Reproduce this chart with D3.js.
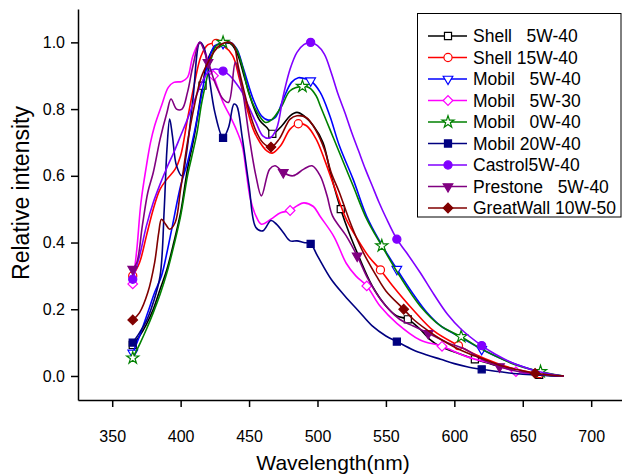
<!DOCTYPE html>
<html>
<head>
<meta charset="utf-8">
<script src="https://cdn.jsdelivr.net/npm/d3@7"></script>
<style>
  body { margin: 0; background: #fff; }
  text { font-family: "Liberation Sans", Arial, sans-serif; }
</style>
</head>
<body>
<svg width="622" height="476"></svg>
<script>
// spectra: [wavelength (nm), relative intensity]
var shell5w40 = [[365,0.093],[370,0.12],[375,0.155],[380,0.20],[385,0.26],[390,0.32],[395,0.40],[400,0.49],[405,0.62],[410,0.72],[416,0.87],[420,0.95],[425,0.985],[430,0.995],[436,0.997],[441,0.97],[447,0.89],[453,0.81],[458,0.765],[463,0.745],[467,0.726],[474,0.75],[480,0.78],[485,0.79],[490,0.78],[497,0.75],[504,0.70],[510,0.60],[517,0.50],[523,0.43],[530,0.36],[540,0.27],[550,0.21],[558,0.18],[566,0.17],[575,0.14],[582,0.11],[590,0.088],[600,0.072],[615,0.05],[630,0.032],[643,0.018],[652,0.01],[662,0.003],[670,0.001],[680,0]];
var shell15w40 = [[365,0.30],[370,0.34],[375,0.42],[380,0.50],[385,0.56],[390,0.59],[396,0.62],[400,0.66],[405,0.77],[410,0.875],[415,0.96],[420,0.993],[426,0.997],[431,0.99],[438,0.96],[443,0.89],[448,0.81],[453,0.74],[458,0.70],[463,0.675],[467,0.668],[473,0.69],[480,0.74],[486,0.756],[492,0.75],[499,0.71],[505,0.65],[512,0.57],[521,0.47],[530,0.405],[538,0.355],[546,0.318],[555,0.27],[570,0.198],[585,0.135],[603,0.091],[615,0.065],[631,0.038],[645,0.02],[662,0.007],[670,0.003],[680,0]];
var mobil5w40 = [[365,0.069],[370,0.12],[376,0.19],[381,0.25],[386,0.30],[390,0.37],[394,0.45],[400,0.57],[405,0.64],[410,0.73],[415,0.835],[420,0.94],[425,0.99],[431,0.997],[436,1.0],[441,0.98],[446,0.92],[453,0.83],[459,0.78],[464,0.767],[469,0.774],[475,0.83],[481,0.88],[486,0.894],[490,0.892],[495,0.885],[502,0.85],[509,0.78],[516,0.69],[526,0.59],[536,0.478],[546,0.40],[558,0.32],[570,0.245],[580,0.19],[590,0.15],[605,0.115],[620,0.08],[630,0.06],[645,0.035],[660,0.015],[670,0.006],[680,0]];
var mobil5w30 = [[365,0.276],[368,0.38],[371,0.52],[375,0.63],[378,0.70],[381,0.75],[386,0.81],[391,0.865],[395,0.88],[401,0.883],[405,0.895],[409,0.96],[414,1.0],[418,0.97],[421,0.93],[424,0.90],[431,0.82],[436,0.78],[440,0.745],[445,0.69],[448,0.61],[451,0.53],[455,0.48],[459,0.455],[466,0.47],[473,0.489],[480,0.496],[485,0.51],[490,0.519],[497,0.508],[502,0.478],[512,0.418],[521,0.338],[528,0.30],[536,0.27],[546,0.208],[558,0.158],[575,0.108],[591,0.089],[609,0.058],[631,0.033],[645,0.013],[660,0.005],[680,0]];
var mobil0w40 = [[365,0.054],[370,0.095],[375,0.14],[380,0.19],[385,0.245],[390,0.31],[395,0.39],[400,0.48],[405,0.60],[408,0.655],[412,0.73],[415,0.81],[419,0.89],[423,0.96],[426,0.99],[431,1.0],[435,1.0],[440,0.985],[445,0.93],[450,0.845],[456,0.79],[462,0.76],[467,0.77],[474,0.81],[480,0.855],[489,0.868],[494,0.864],[499,0.84],[502,0.81],[509,0.74],[516,0.67],[526,0.57],[536,0.47],[547,0.39],[560,0.30],[575,0.21],[590,0.15],[605,0.118],[618,0.085],[631,0.058],[645,0.033],[663,0.013],[672,0.005],[680,0]];
var mobil20w40 = [[365,0.10],[370,0.13],[375,0.165],[380,0.22],[385,0.30],[388,0.50],[390,0.68],[392,0.77],[394,0.72],[397,0.63],[401,0.60],[404,0.66],[409,0.83],[414,1.0],[417,0.985],[420,0.92],[425,0.79],[431,0.714],[435,0.745],[439,0.815],[441,0.81],[445,0.715],[450,0.57],[455,0.445],[460,0.435],[466,0.466],[470,0.455],[475,0.43],[480,0.405],[485,0.405],[490,0.40],[495,0.396],[500,0.36],[510,0.29],[520,0.24],[530,0.195],[540,0.15],[550,0.12],[558,0.103],[570,0.078],[580,0.063],[590,0.05],[600,0.037],[610,0.027],[620,0.02],[630,0.014],[640,0.009],[650,0.005],[660,0.003],[670,0.001],[680,0]];
var castrol5w40 = [[365,0.29],[370,0.36],[375,0.45],[380,0.52],[385,0.575],[390,0.625],[395,0.67],[400,0.72],[405,0.77],[410,0.825],[415,0.875],[420,0.91],[425,0.92],[431,0.914],[436,0.90],[440,0.88],[445,0.85],[450,0.805],[455,0.76],[460,0.72],[465,0.713],[470,0.74],[475,0.84],[480,0.92],[485,0.97],[490,0.993],[495,1.0],[500,0.99],[505,0.965],[510,0.91],[515,0.845],[520,0.79],[525,0.73],[530,0.675],[535,0.62],[540,0.57],[545,0.52],[550,0.475],[558,0.41],[565,0.37],[575,0.31],[585,0.245],[595,0.185],[605,0.14],[620,0.091],[630,0.065],[643,0.038],[650,0.028],[660,0.015],[670,0.006],[680,0]];
var prestone5w40 = [[365,0.32],[368,0.34],[372,0.45],[376,0.55],[380,0.61],[385,0.71],[390,0.79],[393,0.83],[397,0.80],[401,0.80],[405,0.85],[409,0.93],[414,1.0],[420,0.94],[426,0.87],[431,0.83],[435,0.82],[440,0.94],[445,0.86],[450,0.72],[455,0.60],[459,0.54],[465,0.62],[469,0.63],[475,0.61],[482,0.60],[490,0.62],[496,0.63],[502,0.60],[507,0.54],[511,0.48],[521,0.42],[529,0.36],[537,0.29],[546,0.23],[560,0.17],[570,0.15],[581,0.128],[595,0.10],[609,0.078],[620,0.05],[633,0.028],[645,0.015],[660,0.006],[670,0.002],[680,0]];
var greatwall10w50 = [[365,0.168],[370,0.19],[376,0.25],[381,0.34],[384,0.43],[386,0.47],[389,0.455],[392,0.44],[396,0.46],[400,0.56],[405,0.70],[410,0.81],[415,0.895],[420,0.94],[425,0.975],[430,0.995],[436,1.0],[439,0.99],[442,0.93],[446,0.86],[450,0.795],[455,0.735],[460,0.70],[466,0.686],[472,0.71],[480,0.77],[485,0.78],[492,0.774],[499,0.735],[505,0.68],[510,0.61],[516,0.55],[523,0.47],[530,0.40],[536,0.35],[543,0.30],[550,0.255],[563,0.20],[570,0.17],[580,0.138],[590,0.11],[600,0.087],[610,0.068],[623,0.048],[635,0.03],[645,0.02],[659,0.008],[670,0.003],[680,0]];

// wavelengths where a symbol sits on each curve
var shell5w40Marks = [365,416,467,517,566,615,662];
var shell15w40Marks = [365,426,486,546,603,662];
var mobil5w40Marks = [365,431,495,558,620];
var mobil5w30Marks = [365,424,480,536,591,645];
var mobil0w40Marks = [365,431,489,547,605,663];
var mobil20w40Marks = [365,431,495,558,620];
var castrol5w40Marks = [365,431,495,558,620];
var prestone5w40Marks = [365,420,475,529,581,633];
var greatwall10w50Marks = [365,466,563,659];

var names = ["Shell   5W-40","Shell 15W-40","Mobil   5W-40","Mobil   5W-30","Mobil   0W-40","Mobil 20W-40","Castrol5W-40","Prestone   5W-40","GreatWall 10W-50"];
var xTicks = [350,400,450,500,550,600,650,700];
var xMinor = [325,375,425,475,525,575,625,675,725];
var yTicks = [0.0,0.2,0.4,0.6,0.8,1.0];
var yMinor = [0.1,0.3,0.5,0.7,0.9];

var series = [
  {name: names[0], data: shell5w40, marks: shell5w40Marks, color: "#000000", sym: "square", open: true},
  {name: names[1], data: shell15w40, marks: shell15w40Marks, color: "#ff0000", sym: "circle", open: true},
  {name: names[2], data: mobil5w40, marks: mobil5w40Marks, color: "#0000ff", sym: "tri", open: true},
  {name: names[3], data: mobil5w30, marks: mobil5w30Marks, color: "#ff00ff", sym: "diamond", open: true},
  {name: names[4], data: mobil0w40, marks: mobil0w40Marks, color: "#008000", sym: "star", open: true},
  {name: names[5], data: mobil20w40, marks: mobil20w40Marks, color: "#000080", sym: "square", open: false},
  {name: names[6], data: castrol5w40, marks: castrol5w40Marks, color: "#8000ff", sym: "circle", open: false},
  {name: names[7], data: prestone5w40, marks: prestone5w40Marks, color: "#800080", sym: "tri", open: false},
  {name: names[8], data: greatwall10w50, marks: greatwall10w50Marks, color: "#800000", sym: "diamond", open: false}
];

var svg = d3.select("svg");

var x = d3.scaleLinear().domain([325, 725]).range([78, 625.4]);
var y = d3.scaleLinear().domain([-0.072, 1.10]).range([400, 9]);

// axes
var gx = svg.append("g").attr("transform", "translate(0,400)");
gx.call(d3.axisBottom(x).tickValues(xMinor).tickSize(3.5).tickSizeOuter(0).tickFormat(""));
gx.call(d3.axisBottom(x).tickValues(xTicks).tickSize(7).tickSizeOuter(0).tickPadding(24).tickFormat(d3.format("d")));
gx.selectAll(".domain").attr("stroke-width", 1.5);

var gy = svg.append("g").attr("transform", "translate(78,0)");
gy.call(d3.axisLeft(y).tickValues(yMinor).tickSize(3.5).tickSizeOuter(0).tickFormat(""));
gy.call(d3.axisLeft(y).tickValues(yTicks).tickSize(7).tickSizeOuter(0).tickPadding(6).tickFormat(d3.format(".1f")));
gy.selectAll(".domain").attr("stroke-width", 1.5);

svg.selectAll(".tick line").attr("stroke-width", 1.5);
svg.selectAll(".tick text").attr("font-size", 16).attr("font-family", "Liberation Sans, Arial, sans-serif").attr("fill", "#000");

svg.append("text")
  .attr("x", 333).attr("y", 470)
  .attr("text-anchor", "middle")
  .attr("font-size", 21)
  .text("Wavelength(nm)");

svg.append("text")
  .attr("transform", "translate(29,193) rotate(-90)")
  .attr("text-anchor", "middle")
  .attr("font-size", 23)
  .text("Relative intensity");

function symbolPath(s) {
  if (s == "square") return d3.symbol().type(d3.symbolSquare).size(50)();
  if (s == "circle") return d3.symbol().type(d3.symbolCircle).size(52)();
  if (s == "tri") return d3.symbol().type(d3.symbolTriangle).size(40)();
  if (s == "diamond") return d3.symbol().type(d3.symbolSquare).size(46)();
  return d3.symbol().type(d3.symbolStar).size(45)();
}
function symbolRot(s) {
  if (s == "tri") return " rotate(180)";
  if (s == "diamond") return " rotate(45)";
  return "";
}

var line = d3.line()
  .x(function(d) { return x(d[0]); })
  .y(function(d) { return y(d[1]); })
  .curve(d3.curveCatmullRom.alpha(0.5));

var plot = svg.append("g");

for (var i = 0; i < series.length; i++) {
  var s = series[i];
  plot.append("path")
    .datum(s.data)
    .attr("fill", "none")
    .attr("stroke", s.color)
    .attr("stroke-width", 1.6)
    .attr("stroke-linejoin", "round")
    .attr("d", line);

  var pts = s.data.filter(function(d) { return s.marks.indexOf(d[0]) >= 0; });
  plot.selectAll(null)
    .data(pts)
    .enter().append("path")
    .attr("d", symbolPath(s.sym))
    .attr("transform", function(d) { return "translate(" + x(d[0]) + "," + y(d[1]) + ")" + symbolRot(s.sym); })
    .attr("fill", s.open ? "#fff" : s.color)
    .attr("stroke", s.color)
    .attr("stroke-width", 1.2);
}

// legend
var lg = svg.append("g");
lg.append("rect")
  .attr("x", 417.5).attr("y", 13.5)
  .attr("width", 203.5).attr("height", 203.5)
  .attr("fill", "#fff")
  .attr("stroke", "#000")
  .attr("stroke-width", 1);

series.forEach(function(s, i) {
  var ly = 36 + i * 21.5;
  lg.append("line")
    .attr("x1", 428).attr("x2", 467)
    .attr("y1", ly).attr("y2", ly)
    .attr("stroke", s.color)
    .attr("stroke-width", 1.6);
  lg.append("path")
    .attr("d", symbolPath(s.sym))
    .attr("transform", "translate(448," + ly + ")" + symbolRot(s.sym))
    .attr("fill", s.open ? "#fff" : s.color)
    .attr("stroke", s.color)
    .attr("stroke-width", 1.2);
  lg.append("text")
    .attr("x", 473).attr("y", ly)
    .attr("dy", "0.36em")
    .attr("font-size", 17.5)
    .attr("xml:space", "preserve")
    .style("white-space", "pre")
    .text(s.name);
});
</script>
</body>
</html>
